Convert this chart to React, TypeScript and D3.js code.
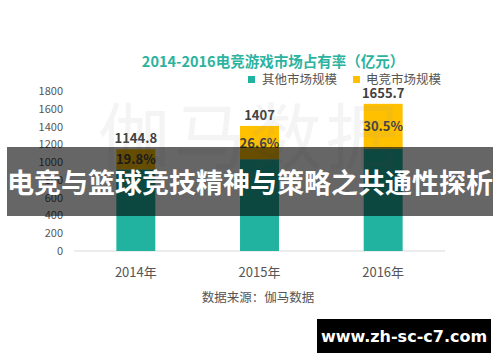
import React from "react";
import * as d3 from "d3";

const years = ["2014年", "2015年", "2016年"];
const totals = [1144.8, 1407, 1655.7];
const esportsShare = [19.8, 26.6, 30.5];
const yTicks = [0, 200, 400, 600, 800, 1000, 1200, 1400, 1600, 1800];

const W = 500;
const H = 362;
const TEAL = "#21B3A0";
const YELLOW = "#FFC000";
const FONT = "'Noto Sans CJK SC', 'Noto Sans', sans-serif";

export default function App() {
  const x = d3.scaleBand<string>().domain(years).range([74, 445]).paddingInner(0.685).paddingOuter(0.3425);
  const y = d3.scaleLinear().domain([0, 1800]).range([251, 91]);
  const esports = totals.map((t, i) => (t * esportsShare[i]) / 100);
  const others = totals.map((t, i) => t - esports[i]);
  const stackData = years.map((yr, i) => ({ year: yr, other: others[i], esports: esports[i] }));
  const series = d3.stack<any>().keys(["other", "esports"])(stackData);
  const colors = [TEAL, YELLOW];

  return (
    <svg width={W} height={H} style={{ position: "absolute", left: 0, top: 0, background: "#fff" }} fontFamily={FONT}>
      <rect width={W} height={H} fill="#fff" />
      <text x={273} y={67} textAnchor="middle" fontSize={14.5} fontWeight="bold" fill="#2BB39F">
        2014-2016电竞游戏市场占有率（亿元）
      </text>
      <rect x={248} y={76} width={7} height={7} fill={TEAL} />
      <text x={262} y={84} fontSize={12.5} fill="#555">其他市场规模</text>
      <rect x={353} y={76} width={7} height={7} fill={YELLOW} />
      <text x={366} y={84} fontSize={12.5} fill="#555">电竞市场规模</text>

      {yTicks.map((t) => (
        <text key={t} x={63} y={y(t) + 4} textAnchor="end" fontSize={11} fill="#555">{t}</text>
      ))}
      <line x1={74} x2={445} y1={y(0)} y2={y(0)} stroke="#d9d9d9" strokeWidth={1} />

      {series.map((s, si) =>
        s.map((d, i) => (
          <rect key={si + "-" + i} x={x(years[i])} width={x.bandwidth()} y={y(d[1])} height={y(d[0]) - y(d[1])} fill={colors[si]} />
        ))
      )}

      {years.map((yr, i) => (
        <g key={yr}>
          <text x={(x(yr) as number) + x.bandwidth() / 2} y={y(totals[i]) - 6} textAnchor="middle" fontSize={13} fontWeight="bold" fill="#404040">
            {String(totals[i])}
          </text>
          <text x={(x(yr) as number) + x.bandwidth() / 2} y={y(others[i] + esports[i] / 2) + 5} textAnchor="middle" fontSize={13} fontWeight="bold" fill="#404040">
            {esportsShare[i].toFixed(1) + "%"}
          </text>
          <text x={(x(yr) as number) + x.bandwidth() / 2} y={277} textAnchor="middle" fontSize={13} fill="#555">{yr}</text>
        </g>
      ))}

      <text x={258} y={302} textAnchor="middle" fontSize={12.5} fill="#555">数据来源：伽马数据</text>

      <text x={250} y={163} textAnchor="middle" fontSize={72} fill="#999" opacity={0.1} letterSpacing={4}>伽马数据</text>

      <rect x={7} y={147} width={486} height={69} fill="#000" opacity={0.6} />
      <text x={250} y={193} textAnchor="middle" fontSize={27} fontWeight="bold" fill="#fff">
        电竞与篮球竞技精神与策略之共通性探析
      </text>

      <rect x={317} y={319} width={174} height={34} fill="#000" />
      <text x={404} y={342} textAnchor="middle" fontSize={16} fontWeight="bold" fill="#fff" fontFamily="'DejaVu Sans', sans-serif">
        www.zh-sc-c7.com
      </text>
    </svg>
  );
}
